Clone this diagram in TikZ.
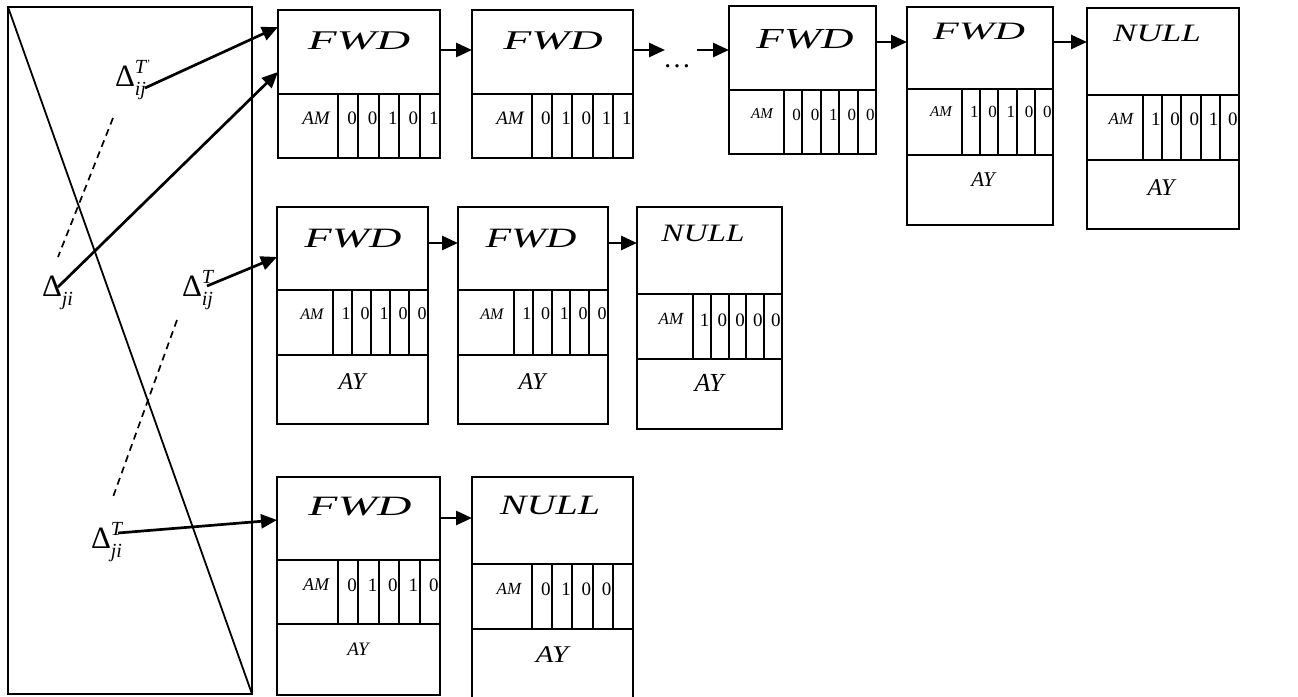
\documentclass[tikz,border=0pt]{standalone}
\usepackage{fontspec}
\setmainfont{Liberation Serif}
\usepackage{graphicx}
\usetikzlibrary{arrows.meta,calc}
\tikzset{
  boxline/.style={line width=1.9pt},
  outerbox/.style={draw, line width=1.9pt, inner sep=0pt, outer sep=0pt, anchor=north west},
  arr/.style={line width=2.7pt, -{Triangle[length=16pt,width=14pt]}},
  dashline/.style={line width=1.7pt, dash pattern=on 7pt off 5pt},
  txt/.style={inner sep=0pt, outer sep=0pt},
}
\newcommand\fs[1]{\fontsize{#1}{#1}\selectfont}
% name, x1, x2, ytop, yl1, yl2, ybot, xam
\newcommand\lbox[8]{%
  \node[outerbox, minimum width={(#3-#2)*1pt}, minimum height={(#7-#4)*1pt}] (#1) at (#2,#4) {};
  \draw[boxline] (#2,#5) -- (#3,#5);
  \draw[boxline] (#2,#6) -- (#3,#6);
  \draw[boxline] (#8,#5) -- (#8,#6);
  \foreach \k in {1,...,4} {\draw[boxline] ({#8+\k*(#3-#8)/5},#5) -- ({#8+\k*(#3-#8)/5},#6);}
}
% xam, x2, y, size, list, prefix
\newcommand\digs[6]{%
  \foreach \d [count=\k] in {#5} {\node[txt, anchor=east, font=\fs{#4}] (#6-\k) at ({#1+\k*(#2-#1)/5-1.5},#3) {\d};}
}
% sub, sup, prime
\newcommand\dlab[3]{{\fs{31}Δ}\rlap{\raisebox{13pt}{\fs{20}\itshape #2\raisebox{6pt}{\fs{11}#3}}}\raisebox{-9pt}{\fs{20}\itshape #1}}
\begin{document}
\begin{tikzpicture}[x=1pt,y=-1pt]
\useasboundingbox (0,0) rectangle (1298,696);
\clip (0,0) rectangle (1298,696);

% left panel
\node[outerbox, minimum width=244pt, minimum height=687pt] (panel) at (8,7) {};
\draw[line width=1.8pt] (panel.north west) -- (panel.south east);

% labels
\node[txt, anchor=base west] (d1) at (115,86) {\dlab{ij}{T}{'}};
\node[txt, anchor=base west] (d2) at (42,296) {\dlab{ji}{}{}};
\node[txt, anchor=base west] (d3) at (182,296) {\dlab{ij}{T}{}};
\node[txt, anchor=base west] (d4) at (91,548) {\dlab{ji}{T}{}};
\draw[dashline] (113,118) -- (58,257);
\draw[dashline] (177,320) -- (113,497);

% top row
\lbox{b1}{278}{440}{10}{94}{158}{158}{338}
\node[txt, font=\fs{27}\itshape] (b1h) at (359,41) {\scalebox{1.75}[1]{FWD}};
\node[txt, font=\fs{19}\itshape] (b1m) at (316,118) {AM};
\digs{338}{440}{118}{19}{0,0,1,0,1}{b1d}

\lbox{b2}{472}{633}{10}{94}{158}{158}{532}
\node[txt, font=\fs{27}\itshape] (b2h) at (553,41) {\scalebox{1.7}[1]{FWD}};
\node[txt, font=\fs{19}\itshape] (b2m) at (510,118) {AM};
\digs{532}{633}{118}{19}{0,1,0,1,1}{b2d}

\lbox{b3}{729}{876}{6}{90}{154}{154}{784}
\node[txt, font=\fs{29}\itshape] (b3h) at (805,39) {\scalebox{1.55}[1]{FWD}};
\node[txt, font=\fs{15}\itshape] (b3m) at (762,114) {AM};
\digs{784}{876}{115}{17}{0,0,1,0,0}{b3d}

\lbox{b4}{907}{1053}{7}{89}{155}{225}{962}
\node[txt, font=\fs{25}\itshape] (b4h) at (979,32) {\scalebox{1.7}[1]{FWD}};
\node[txt, font=\fs{15}\itshape] (b4m) at (941,112) {AM};
\digs{962}{1053}{112}{17}{1,0,1,0,0}{b4d}
\node[txt, font=\fs{21}\itshape] (b4y) at (983,180) {AY};

\lbox{b5}{1087}{1239}{8}{95}{160}{229}{1143}
\node[txt, font=\fs{25}\itshape] (b5h) at (1157,33) {\scalebox{1.4}[1]{NULL}};
\node[txt, font=\fs{17}\itshape] (b5m) at (1121,119) {AM};
\digs{1143}{1239}{119}{19}{1,0,0,1,0}{b5d}
\node[txt, font=\fs{24}\itshape] (b5y) at (1161,188) {AY};

\node[txt, font=\fs{28}] (dots) at (677,66) {…};
\coordinate (dl) at (665,50);
\coordinate (dr) at (697,50);
\draw[arr] (b1.east |- 0,50) -- (b2.west |- 0,50);
\draw[arr] (b2.east |- 0,50) -- (dl);
\draw[arr] (dr) -- (b3.west |- 0,50);
\draw[arr] (b3.east |- 0,42) -- (b4.west |- 0,42);
\draw[arr] (b4.east |- 0,42) -- (b5.west |- 0,42);

% middle row
\lbox{bA}{277}{428}{207}{290}{355}{424}{333}
\node[txt, font=\fs{28}\itshape] (bAh) at (353,239) {\scalebox{1.6}[1]{FWD}};
\node[txt, font=\fs{16}\itshape] (bAm) at (312,314) {AM};
\digs{333}{428}{314}{18}{1,0,1,0,0}{bAd}
\node[txt, font=\fs{24}\itshape] (bAy) at (352,382) {AY};

\lbox{bB}{458}{608}{207}{290}{355}{424}{514}
\node[txt, font=\fs{28}\itshape] (bBh) at (531,239) {\scalebox{1.5}[1]{FWD}};
\node[txt, font=\fs{16}\itshape] (bBm) at (492,314) {AM};
\digs{514}{608}{314}{18}{1,0,1,0,0}{bBd}
\node[txt, font=\fs{24}\itshape] (bBy) at (532,382) {AY};

\lbox{bC}{637}{782}{207}{294}{359}{429}{693}
\node[txt, font=\fs{25}\itshape] (bCh) at (703,233) {\scalebox{1.33}[1]{NULL}};
\node[txt, font=\fs{17}\itshape] (bCm) at (671,319) {AM};
\digs{693}{782}{320}{19}{1,0,0,0,0}{bCd}
\node[txt, font=\fs{26}\itshape] (bCy) at (709,383) {AY};

\draw[arr] (bA.east |- 0,243) -- (bB.west |- 0,243);
\draw[arr] (bB.east |- 0,243) -- (bC.west |- 0,243);

% bottom row
\lbox{bD}{277}{440}{477}{560}{624}{695}{338}
\node[txt, font=\fs{28}\itshape] (bDh) at (360,507) {\scalebox{1.7}[1]{FWD}};
\node[txt, font=\fs{18}\itshape] (bDm) at (316,585) {AM};
\digs{338}{440}{585}{19}{0,1,0,1,0}{bDd}
\node[txt, font=\fs{19}\itshape] (bDy) at (358,649) {AY};

\lbox{bE}{472}{633}{477}{564}{629}{705}{532}
\node[txt, font=\fs{28}\itshape] (bEh) at (550,505) {\scalebox{1.43}[1]{NULL}};
\node[txt, font=\fs{17}\itshape] (bEm) at (509,589) {AM};
\digs{532}{633}{589}{19}{0,1,0,0}{bEd}
\node[txt, font=\fs{24}\itshape] (bEy) at (552,655) {\scalebox{1.2}[1]{AY}};

\draw[arr] (bD.east |- 0,518) -- (bE.west |- 0,518);

% arrows from labels
\coordinate (s1) at (145,88);
\coordinate (s2) at (58,287);
\coordinate (s3) at (207,286);
\coordinate (s4) at (118,533);
\draw[arr] (s1) -- (b1.west |- 0,27);
\draw[arr] (s2) -- (b1.west |- 0,72);
\draw[arr] (s3) -- (bA.west |- 0,257);
\draw[arr] (s4) -- (bD.west |- 0,520);
\end{tikzpicture}
\end{document}
